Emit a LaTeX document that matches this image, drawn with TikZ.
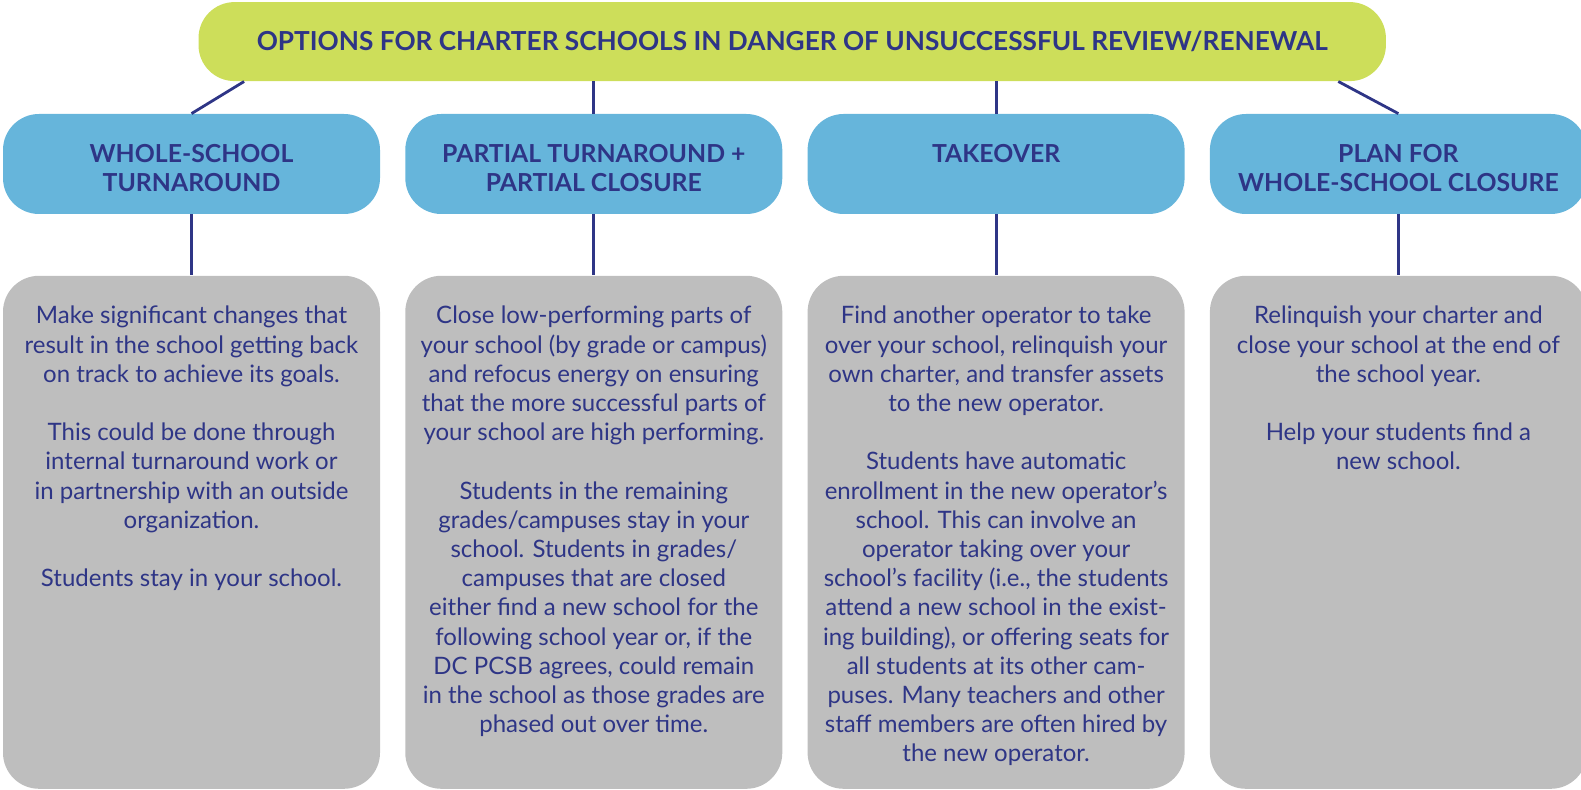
\documentclass[tikz,border=0pt]{standalone}
\usepackage{fontspec}
\setmainfont{Lato}
\usepackage{xcolor}
\definecolor{title-green}{HTML}{CDDE5A}
\definecolor{option-blue}{HTML}{66B5DB}
\definecolor{detail-grey}{HTML}{BEBEBE}
\definecolor{ink-navy}{HTML}{2E3586}
\usetikzlibrary{positioning}
\newcommand{\headtext}[1]{\parbox[t][50pt][t]{184pt}{\centering\fontsize{12.4pt}{14.5pt}\selectfont\bfseries\vspace*{15.1pt}#1}}
\newcommand{\bodytext}[1]{\parbox[t][256.5pt][t]{182pt}{\centering\fontsize{12pt}{14.6pt}\selectfont\vspace*{15.2pt}#1}}
\tikzset{banner/.style = {fill=title-green, rounded corners=18pt, minimum width=593.7pt, minimum height=39.5pt, inner sep=0pt, text=ink-navy, font=\fontsize{13.1pt}{15pt}\selectfont\bfseries}}
\tikzset{option/.style = {fill=option-blue, rounded corners=18pt, minimum width=188.5pt, inner sep=0pt, text=ink-navy}}
\tikzset{detail/.style = {fill=detail-grey, rounded corners=18pt, minimum width=188.5pt, inner sep=0pt, text=ink-navy}}
\tikzset{link/.style = {draw=ink-navy, line width=1.4pt}}

\begin{document}
\begin{tikzpicture}[node distance = 30.5pt and 12.25pt]
\useasboundingbox (0,0) rectangle (790.5pt,-395pt);

\node[banner] (b0) at (396.1pt,-20.8pt) {OPTIONS FOR CHARTER SCHOOLS IN DANGER OF UNSUCCESSFUL REVIEW/RENEWAL};

% the four options
\node[option] (b1) at (95.75pt,-82pt) {\headtext{WHOLE-SCHOOL\\TURNAROUND}};
\node[option, right=of b1] (b2) {\headtext{PARTIAL TURNAROUND +\\PARTIAL CLOSURE}};
\node[option, right=of b2] (b3) {\headtext{TAKEOVER}};
\node[option, right=of b3] (b4) {\headtext{PLAN FOR\\WHOLE-SCHOOL CLOSURE}};

% what each option means
\node[detail, below=of b1] (b5) {\bodytext{
  Make significant changes that\\
  result in the school getting back\\
  on track to achieve its goals.\\[14.6pt]
  This could be done through\\
  internal turnaround work or\\
  in partnership with an outside\\
  organization.\\[14.6pt]
  Students stay in your school.
}};
\node[detail, below=of b2] (b6) {\bodytext{
  Close low-performing parts of\\
  your school (by grade or campus)\\
  and refocus energy on ensuring\\
  that the more successful parts of\\
  your school are high performing.\\[14.6pt]
  Students in the remaining\\
  grades/campuses stay in your\\
  school. Students in grades/\\
  campuses that are closed\\
  either find a new school for the\\
  following school year or, if the\\
  DC PCSB agrees, could remain\\
  in the school as those grades are\\
  phased out over time.
}};
\node[detail, below=of b3] (b7) {\bodytext{
  Find another operator to take\\
  over your school, relinquish your\\
  own charter, and transfer assets\\
  to the new operator.\\[14.6pt]
  Students have automatic\\
  enrollment in the new operator’s\\
  school. This can involve an\\
  operator taking over your\\
  school’s facility (i.e., the students\\
  attend a new school in the exist-\\
  ing building), or offering seats for\\
  all students at its other cam-\\
  puses. Many teachers and other\\
  staff members are often hired by\\
  the new operator.
}};
\node[detail, below=of b4] (b8) {\bodytext{
  Relinquish your charter and\\
  close your school at the end of\\
  the school year.\\[14.6pt]
  Help your students find a\\
  new school.
}};

\draw[link] (b0.south west) ++(23pt,0) -- (b1.north);
\draw[link] (b2.north) -- (b2.north |- b0.south);
\draw[link] (b3.north) -- (b3.north |- b0.south);
\draw[link] (b0.south east) ++(-24pt,0) -- (b4.north);
\draw[link] (b1) -- (b5);
\draw[link] (b2) -- (b6);
\draw[link] (b3) -- (b7);
\draw[link] (b4) -- (b8);

\end{tikzpicture}
\end{document}
